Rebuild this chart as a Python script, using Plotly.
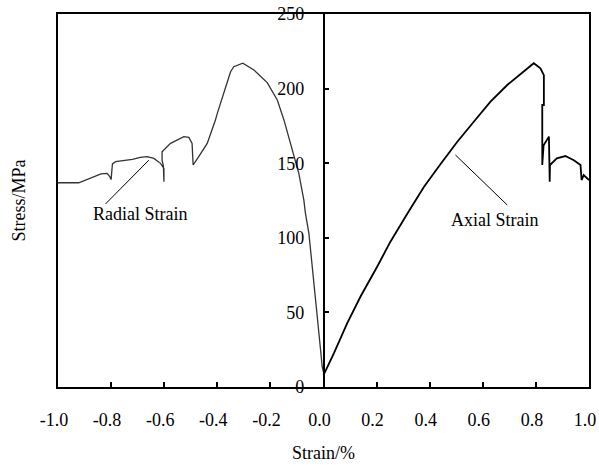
import plotly.graph_objects as go

# Radial strain branch (negative strain), in drawing order from origin
radial_x = [0.0, -0.005, -0.011, -0.03, -0.055, -0.068, -0.074, -0.093, -0.118, -0.137,
            -0.149, -0.174, -0.2, -0.212, -0.262, -0.304, -0.338, -0.35, -0.362, -0.381,
            -0.4, -0.407, -0.438, -0.47, -0.491, -0.495, -0.507, -0.526, -0.576, -0.608,
            -0.608, -0.603, -0.601, -0.601, -0.614, -0.639, -0.664, -0.69, -0.72, -0.76,
            -0.783, -0.795, -0.80, -0.805, -0.815, -0.838, -0.876, -0.922, -1.0]
radial_y = [10, 13.6, 24.8, 58.3, 103, 116.4, 125.3, 143.2, 158.8, 171,
            179, 192.4, 201, 204, 212.5, 217, 214.7, 211.3, 204.6, 194.6,
            183.4, 178.9, 163.3, 154.4, 148.8, 163.3, 167.3, 167.8, 163.3, 157.7,
            152, 148, 137.6, 146.5, 149.9, 153.2, 154.4, 153.9, 152.5, 151.5,
            151, 149.5, 139, 141, 143.2, 142.8, 139.9, 136.9, 136.9]

# Axial strain branch (positive strain)
axial_x = [0.0, 0.039, 0.089, 0.139, 0.202, 0.252, 0.315, 0.378, 0.441, 0.504, 0.566,
           0.629, 0.692, 0.754, 0.792, 0.817, 0.83, 0.83, 0.824, 0.824, 0.829, 0.849,
           0.852, 0.853, 0.879, 0.911, 0.943, 0.968, 0.972, 0.98, 1.0]
axial_y = [8, 22.5, 42.7, 60.5, 80.6, 97.4, 116, 134, 149.5, 164.4, 177.8,
           191.2, 202.4, 211.3, 217, 213.6, 209, 189, 189, 148.8, 162, 167.8,
           137.6, 148.8, 153.3, 154.8, 152, 148.8, 138.7, 142, 138.7]

x_ticks = [-1.0, -0.8, -0.6, -0.4, -0.2, 0.0, 0.2, 0.4, 0.6, 0.8, 1.0]
y_ticks = [0, 50, 100, 150, 200, 250]

# Labels: text, text position, leader line start / end
radial_label = ("Radial Strain", (-0.692, 116), (-0.821, 122.7), (-0.658, 152))
axial_label = ("Axial Strain", (0.645, 112), (0.692, 122), (0.497, 155.5))

FONT = "Liberation Serif"
FS = 18

fig = go.Figure()
fig.add_trace(go.Scatter(x=radial_x, y=radial_y, mode="lines",
                         line=dict(color="#333333", width=1.3), showlegend=False))
fig.add_trace(go.Scatter(x=axial_x, y=axial_y, mode="lines",
                         line=dict(color="#000000", width=1.8), showlegend=False))
# invisible trace on the secondary y axis so the frame axis is drawn
fig.add_trace(go.Scatter(x=[None], y=[None], yaxis="y2", showlegend=False, hoverinfo="skip"))

for text, (tx, ty), (x0, y0), (x1, y1) in (radial_label, axial_label):
    fig.add_shape(type="line", x0=x0, y0=y0, x1=x1, y1=y1, xref="x", yref="y",
                  line=dict(color="black", width=1))
    fig.add_annotation(x=tx, y=ty, text=text, showarrow=False, xref="x", yref="y",
                       font=dict(family=FONT, size=FS, color="black"))

fig.add_annotation(text="Stress/MPa", xref="paper", yref="paper", x=-0.0753, y=0.5,
                   textangle=-90, showarrow=False, xanchor="center", yanchor="middle",
                   font=dict(family=FONT, size=FS, color="black"))
fig.add_annotation(text="Strain/%", xref="paper", yref="paper", x=0.5, y=-0.177,
                   showarrow=False, xanchor="center", yanchor="middle",
                   font=dict(family=FONT, size=FS, color="black"))

fig.update_layout(
    width=599, height=466,
    margin=dict(l=58, r=10, t=14, b=79, autoexpand=False),
    paper_bgcolor="white", plot_bgcolor="white",
    font=dict(family=FONT, size=FS, color="black"),
    xaxis=dict(range=[-1, 1], tickvals=x_ticks, ticktext=[f"{v:.1f}" for v in x_ticks],
               ticks="inside", ticklen=5, tickwidth=1.5, tickcolor="black",
               showline=True, linecolor="black", linewidth=1.5, mirror=True,
               showgrid=False, zeroline=False, ticklabelstandoff=16,
               ticklabelshift=-4, ticklabeloverflow="allow"),
    yaxis=dict(range=[0, 250], tickvals=y_ticks, anchor="free", position=0.5,
               side="left", ticks="inside", ticklen=5, tickwidth=1.5, tickcolor="black",
               showline=True, linecolor="black", linewidth=1.5,
               showgrid=False, zeroline=False, ticklabelstandoff=15),
    yaxis2=dict(range=[0, 250], overlaying="y", anchor="x", side="right",
                showline=True, linecolor="black", linewidth=1.5, mirror=True,
                showticklabels=False, ticks="", showgrid=False, zeroline=False),
)

fig.write_html("out.html", config={"displayModeBar": False},
               post_script="document.body.style.margin='0';document.body.style.overflow='hidden';")
